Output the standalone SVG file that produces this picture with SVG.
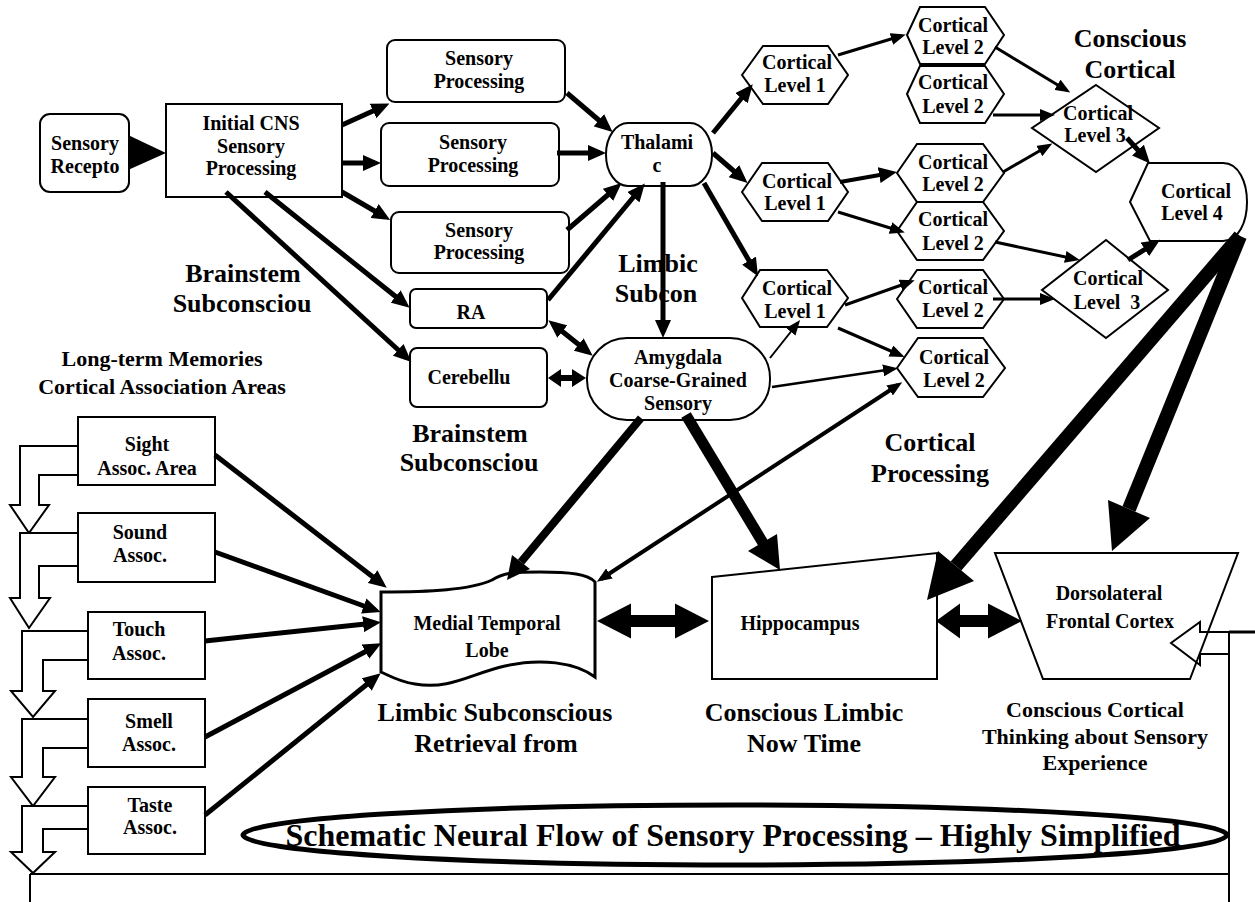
<svg xmlns="http://www.w3.org/2000/svg" width="1255" height="902" viewBox="0 0 1255 902">
<style>
.n{fill:#fff;stroke:#000;stroke-width:2}
.h{fill:#fff;stroke:#000;stroke-width:2}
.t{font-family:"Liberation Serif","Times New Roman",serif;font-weight:bold;font-size:20px;text-anchor:middle;fill:#000}
.b26{font-size:26px}
.b22{font-size:22px}
.k5{stroke:#000;stroke-width:5;fill:none;marker-end:url(#a5)}
.k3{stroke:#000;stroke-width:3;fill:none;marker-end:url(#a3)}
.f{fill:#000;stroke:none}
.ln{stroke:#000;stroke-width:2;fill:none}
</style>
<defs>
<marker id="a5" markerUnits="userSpaceOnUse" markerWidth="18" markerHeight="16" refX="12" refY="8" orient="auto-start-reverse"><path d="M0,0 L18,8 L0,16 Z" fill="#000"/></marker>
<marker id="a3" markerUnits="userSpaceOnUse" markerWidth="15" markerHeight="12" refX="10" refY="6" orient="auto-start-reverse"><path d="M0,0 L15,6 L0,12 Z" fill="#000"/></marker>
</defs>
<rect width="1255" height="902" fill="#fff"/>

<g id="sensory-receptor"><rect class="n" x="40" y="114" width="89" height="78" rx="10"/><text class="t" x="85" y="150">Sensory</text><text class="t" x="85" y="173">Recepto</text></g>
<g id="initial-cns"><rect class="n" x="166" y="104" width="176" height="93"/><text class="t" x="251" y="130">Initial CNS</text><text class="t" x="251" y="153">Sensory</text><text class="t" x="251" y="175">Processing</text></g>
<g id="sp1"><rect class="n" x="387" y="40" width="178" height="62" rx="8"/><text class="t" x="479" y="65">Sensory</text><text class="t" x="479" y="88">Processing</text></g>
<g id="sp2"><rect class="n" x="381" y="123" width="178" height="63" rx="8"/><text class="t" x="473" y="149">Sensory</text><text class="t" x="473" y="172">Processing</text></g>
<g id="sp3"><rect class="n" x="391" y="212" width="178" height="61" rx="8"/><text class="t" x="479" y="237">Sensory</text><text class="t" x="479" y="259">Processing</text></g>
<g id="thalamic"><rect class="n" x="606" y="123" width="106" height="63" rx="22" ry="31"/><text class="t" x="657" y="149">Thalami</text><text class="t" x="657" y="172">c</text></g>
<g id="ra"><rect class="n" x="410" y="289" width="137" height="39" rx="6"/><text class="t" x="471" y="319">RA</text></g>
<g id="cerebellum"><rect class="n" x="410" y="348" width="137" height="59" rx="7"/><text class="t" x="469" y="384">Cerebellu</text></g>
<g id="amygdala"><rect class="n" x="587" y="338" width="183" height="82" rx="40" ry="40"/><text class="t" x="678" y="364">Amygdala</text><text class="t" x="678" y="387">Coarse-Grained</text><text class="t" x="678" y="410">Sensory</text></g>

<g id="cl1-top"><polygon class="h" points="742,75 763,46 828,46 848,75 828,104 763,104"/><text class="t" x="797" y="69">Cortical</text><text class="t" x="795" y="92">Level 1</text></g>
<g id="cl2-top1"><polygon class="h" points="907,35 920,7 985,7 1004,35 985,64 920,64"/><text class="t" x="953" y="32">Cortical</text><text class="t" x="953" y="54">Level 2</text></g>
<g id="cl2-top2"><polygon class="h" points="907,94 920,66 985,66 1004,94 985,123 920,123"/><text class="t" x="953" y="89">Cortical</text><text class="t" x="953" y="113">Level 2</text></g>
<g id="cl3-top"><polygon class="h" points="1096,85 1159,128 1096,172 1032,128"/><text class="t" x="1098" y="120">Cortical</text><text class="t" x="1095" y="142">Level 3</text></g>
<g id="cl1-mid"><polygon class="h" points="742,192 762,163 828,163 848,192 828,221 762,221"/><text class="t" x="797" y="188">Cortical</text><text class="t" x="795" y="210">Level 1</text></g>
<g id="cl2-mid1"><polygon class="h" points="897,173 917,144 983,144 1004,173 983,202 917,202"/><text class="t" x="953" y="169">Cortical</text><text class="t" x="953" y="191">Level 2</text></g>
<g id="cl2-mid2"><polygon class="h" points="897,231 917,202 983,202 1004,231 983,260 917,260"/><text class="t" x="953" y="226">Cortical</text><text class="t" x="953" y="250">Level 2</text></g>
<g id="cl4"><path class="h" d="M1130,202 L1148,163 L1223,163 C1255,163 1255,241 1223,241 L1150,241 Z"/><text class="t" x="1196" y="198">Cortical</text><text class="t" x="1192" y="220">Level 4</text></g>
<g id="cl3-bot"><polygon class="h" points="1106,240 1168,290 1106,338 1042,290"/><text class="t" x="1108" y="285">Cortical</text><text class="t" x="1107" y="309" xml:space="preserve">Level  3</text></g>
<g id="cl1-bot"><polygon class="h" points="742,298 760,270 827,270 848,298 827,327 760,327"/><text class="t" x="797" y="295">Cortical</text><text class="t" x="795" y="318">Level 1</text></g>
<g id="cl2-bot1"><polygon class="h" points="897,299 917,270 983,270 1004,299 983,328 917,328"/><text class="t" x="953" y="294">Cortical</text><text class="t" x="953" y="317">Level 2</text></g>
<g id="cl2-bot2"><polygon class="h" points="897,368 918,338 983,338 1005,368 983,397 918,397"/><text class="t" x="954" y="364">Cortical</text><text class="t" x="954" y="387">Level 2</text></g>

<g id="mtl"><path d="M381,592 C430,592 470,590 492,580 C505,572 515,572 540,572 C570,572 588,574 595,582 L595,677 C575,662 540,658 505,666 C470,674 450,690 415,684 C400,682 390,676 381,672 Z" fill="#fff" stroke="#000" stroke-width="3"/><text class="t" x="487" y="630">Medial Temporal</text><text class="t" x="487" y="657">Lobe</text></g>
<g id="hippocampus"><polygon class="n" points="712,577 937,553 937,679 712,679"/><text class="t" x="800" y="630">Hippocampus</text></g>
<g id="dlpfc-arrow"><polygon class="n" points="1229,632 1200,632 1200,622 1171,643 1200,665 1200,654 1229,654"/></g>
<g id="dlpfc"><polygon points="995,553 1238,553 1190,679 1043,679" fill="none" stroke="#000" stroke-width="2"/><text class="t" x="1109" y="600">Dorsolateral</text><text class="t" x="1110" y="628">Frontal Cortex</text></g>

<g id="sight"><path class="n" d="M78,446 L20,446 L20,505 L10,505 L29,533 L49,505 L39,505 L39,475 L78,475"/><rect class="n" x="78" y="417" width="137" height="68"/><text class="t" x="147" y="451">Sight</text><text class="t" x="147" y="475">Assoc. Area</text></g>
<g id="sound"><path class="n" d="M78,533 L20,533 L20,598 L10,598 L29,628 L50,598 L39,598 L39,566 L78,566"/><rect class="n" x="78" y="513" width="137" height="69"/><text class="t" x="140" y="539">Sound</text><text class="t" x="140" y="562">Assoc.</text></g>
<g id="touch"><path class="n" d="M88,631 L22,631 L22,691 L11,691 L33,717 L55,691 L43,691 L43,660 L88,660"/><rect class="n" x="88" y="612" width="117" height="67"/><text class="t" x="139" y="636">Touch</text><text class="t" x="139" y="660">Assoc.</text></g>
<g id="smell"><path class="n" d="M88,719 L22,719 L22,777 L11,777 L33,806 L55,777 L43,777 L43,748 L88,748"/><rect class="n" x="88" y="699" width="117" height="68"/><text class="t" x="149" y="728">Smell</text><text class="t" x="149" y="751">Assoc.</text></g>
<g id="taste"><path class="n" d="M88,806 L22,806 L22,852 L11,852 L33,873 L55,852 L43,852 L43,829 L88,829"/><rect class="n" x="88" y="787" width="117" height="67"/><text class="t" x="150" y="812">Taste</text><text class="t" x="150" y="834">Assoc.</text></g>

<g id="title"><ellipse cx="735" cy="835" rx="492" ry="30" fill="#fff" stroke="#000" stroke-width="5"/><text class="t" x="733" y="846" style="font-size:32px" textLength="895" lengthAdjust="spacingAndGlyphs">Schematic Neural Flow of Sensory Processing – Highly Simplified</text></g>

<g id="labels">
<text class="t b26" x="1130" y="47">Conscious</text><text class="t b26" x="1130" y="78">Cortical</text>
<text class="t b26" x="243" y="282">Brainstem</text><text class="t b26" x="242" y="312">Subconsciou</text>
<text class="t b22" x="162" y="366">Long-term Memories</text><text class="t b22" x="162" y="394">Cortical Association Areas</text>
<text class="t b26" x="658" y="272">Limbic</text><text class="t b26" x="656" y="302">Subcon</text>
<text class="t b26" x="470" y="442">Brainstem</text><text class="t b26" x="469" y="471">Subconsciou</text>
<text class="t b26" x="930" y="451">Cortical</text><text class="t b26" x="930" y="482">Processing</text>
<text class="t b26" x="495" y="721">Limbic Subconscious</text><text class="t b26" x="496" y="752">Retrieval from</text>
<text class="t b26" x="804" y="721">Conscious Limbic</text><text class="t b26" x="804" y="752">Now Time</text>
<text class="t b22" x="1095" y="717">Conscious Cortical</text><text class="t b22" x="1095" y="744">Thinking about Sensory</text><text class="t b22" x="1095" y="770">Experience</text>
</g>

<g id="connectors">
<polygon class="f" points="128,135 166,153 128,170"/>
<line class="k5" x1="342" y1="125" x2="384" y2="106"/>
<line class="k5" x1="342" y1="163" x2="375" y2="163"/>
<line class="k5" x1="342" y1="192" x2="385" y2="217"/>
<line class="k5" x1="265" y1="192" x2="405" y2="304"/>
<line class="k5" x1="226" y1="192" x2="407" y2="358"/>
<line class="k5" x1="567" y1="93" x2="608" y2="128"/>
<line class="k5" x1="557" y1="153" x2="600" y2="153"/>
<line class="k5" x1="567" y1="230" x2="617" y2="187"/>
<line class="k5" x1="548" y1="300" x2="641" y2="188"/>
<line class="k5" x1="663" y1="182" x2="663" y2="332"/>
<line class="k5" x1="713" y1="133" x2="749" y2="89"/>
<line class="k5" x1="713" y1="153" x2="743" y2="179"/>
<line class="k5" x1="704" y1="183" x2="755" y2="271"/>
<line class="k5" x1="215" y1="455" x2="382" y2="584"/>
<line class="k5" x1="215" y1="552" x2="375" y2="610"/>
<line class="k5" x1="205" y1="641" x2="375" y2="623"/>
<line class="k5" x1="205" y1="737" x2="376" y2="646"/>
<line class="k5" x1="205" y1="815" x2="376" y2="677"/>
<line class="k5" style="stroke-width:4" x1="840" y1="182" x2="891" y2="173"/>
<line class="k5" x1="1127" y1="138" x2="1146" y2="159"/>
<line class="k5" x1="1128" y1="260" x2="1155" y2="243"/>
<line class="k5" style="marker-start:url(#a5)" x1="553" y1="324" x2="588" y2="352"/>
<polygon class="f" points="548,378 561,369 561,375 572,375 572,369 586,378 572,387 572,381 561,381 561,387"/>
<line class="k3" x1="838" y1="55" x2="901" y2="36"/>
<line class="k3" x1="995" y1="47" x2="1066" y2="90"/>
<line class="k3" x1="993" y1="115" x2="1050" y2="115"/>
<line class="k3" x1="838" y1="212" x2="900" y2="231"/>
<line class="k3" x1="1003" y1="172" x2="1048" y2="146"/>
<line class="k3" x1="995" y1="242" x2="1075" y2="259"/>
<line class="k3" x1="845" y1="305" x2="910" y2="282"/>
<line class="k3" x1="993" y1="299" x2="1050" y2="299"/>
<line class="k3" style="stroke-width:2" x1="770" y1="358" x2="797" y2="324"/>
<line class="k3" x1="838" y1="328" x2="900" y2="355"/>
<line class="k3" style="stroke-width:2.5" x1="772" y1="387" x2="893" y2="369"/>
<line class="k3" style="stroke-width:4;marker-start:url(#a3)" x1="601" y1="579" x2="898" y2="385"/>
<line stroke="#000" stroke-width="14" x1="1240" y1="236" x2="956" y2="566"/>
<polygon class="f" points="974,581 927,600 938,551"/>
<line stroke="#000" stroke-width="14" x1="1240" y1="236" x2="1129" y2="509"/>
<polygon class="f" points="1150,518 1112,551 1108,500"/>
<line stroke="#000" stroke-width="11" x1="686" y1="415" x2="763" y2="543"/>
<polygon class="f" points="777,534 780,570 748,551"/>
<line stroke="#000" stroke-width="8" x1="641" y1="418" x2="521" y2="562"/>
<polygon class="f" points="530,569 507,580 512,555"/>
<polygon class="f" points="597,621 631,603.5 631,615 675,615 675,603.5 709,621 675,638.5 675,627 631,627 631,638.5"/>
<polygon class="f" points="936,621 960,603.5 960,615 988,615 988,603.5 1022,621 988,638.5 988,627 960,627 960,638.5"/>
<line class="ln" x1="30" y1="874" x2="1229" y2="874"/>
<line class="ln" x1="30" y1="874" x2="30" y2="902"/>
<line class="ln" x1="1229" y1="632" x2="1229" y2="902"/>
<line stroke="#000" stroke-width="3" x1="1229" y1="632" x2="1255" y2="632"/>
</g>
</svg>
